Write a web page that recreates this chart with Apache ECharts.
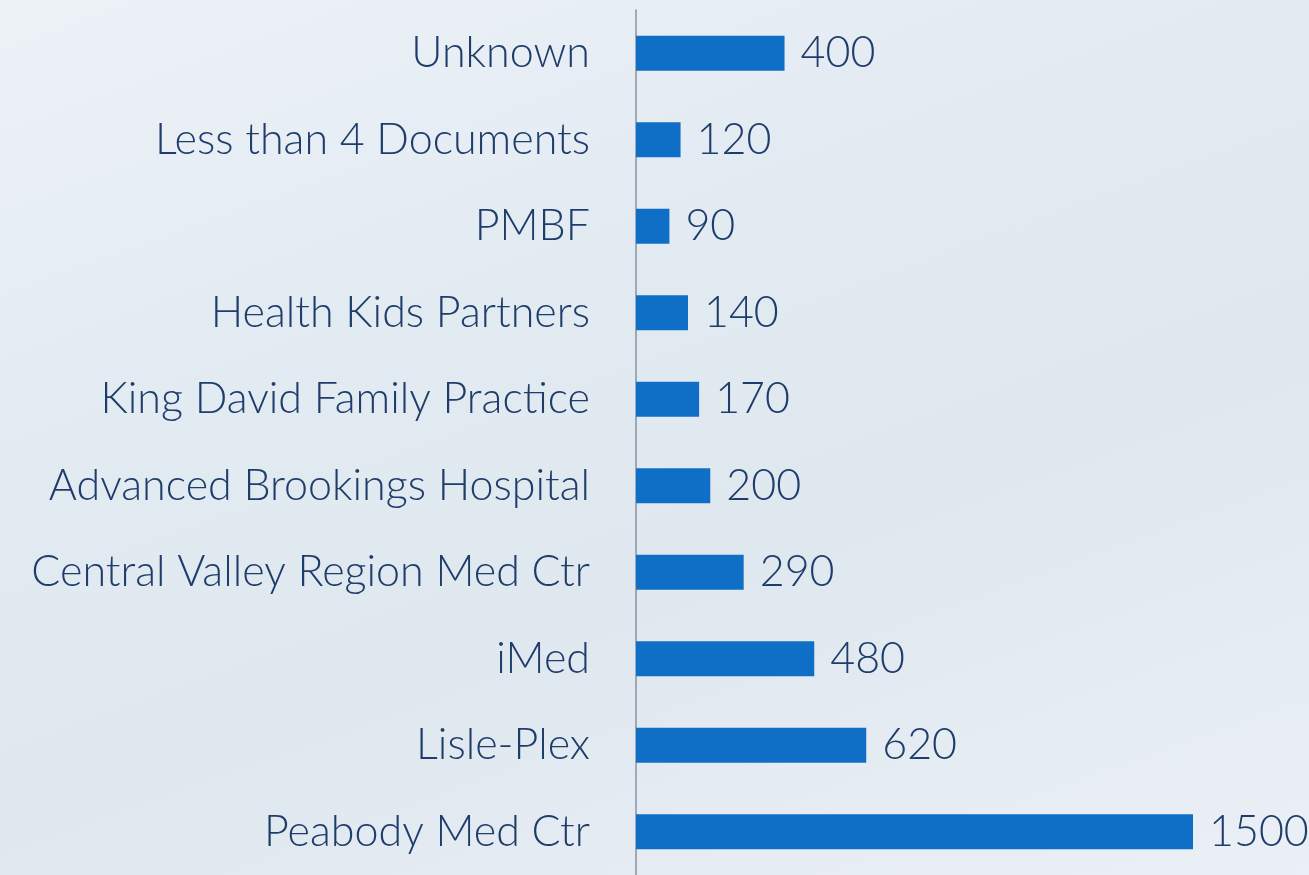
<!DOCTYPE html>
<html>
<head>
<meta charset="utf-8">
<script src="https://cdn.jsdelivr.net/npm/echarts@6/dist/echarts.min.js"></script>
<style>
  html, body { margin: 0; padding: 0; }
  body {
    background: linear-gradient(160deg, #edf2f7 0%, #e2eaf2 35%, #dfe7ef 60%, #eaf0f5 100%);
  }
  #chart { width: 1309px; height: 875px; }
</style>
</head>
<body>
<div id="chart"></div>
<script>
// categories from top to bottom
var categories = ['Unknown', 'Less than 4 Documents', 'PMBF', 'Health Kids Partners',
  'King David Family Practice', 'Advanced Brookings Hospital', 'Central Valley Region Med Ctr',
  'iMed', 'Lisle-Plex', 'Peabody Med Ctr'];
var counts = [400, 120, 90, 140, 170, 200, 290, 480, 620, 1500];

var myChart = echarts.init(document.getElementById('chart'));
var option;

option = {
  backgroundColor: 'transparent',
  textStyle: { fontFamily: 'Lato' },
  grid: {
    left: 636,
    top: 10,
    width: 557,
    height: 870
  },
  xAxis: {
    type: 'value',
    min: 0,
    max: 1500,
    show: false
  },
  yAxis: {
    type: 'category',
    inverse: true,
    data: categories,
    axisLine: {
      show: true,
      onZero: false,
      lineStyle: { color: '#8a93a3', width: 1.5 }
    },
    axisTick: { show: false },
    axisLabel: {
      margin: 46,
      fontSize: 43,
      fontWeight: 300,
      fontFamily: 'Lato',
      color: '#1f3d6b'
    }
  },
  series: [
    {
      type: 'bar',
      data: counts,
      barWidth: 35,
      itemStyle: { color: '#0f6fc6' },
      label: {
        show: true,
        position: 'right',
        distance: 16,
        fontSize: 43,
        fontWeight: 300,
        fontFamily: 'Lato',
        color: '#1f3d6b'
      }
    }
  ]
};

option && myChart.setOption(option);
</script>
</body>
</html>
